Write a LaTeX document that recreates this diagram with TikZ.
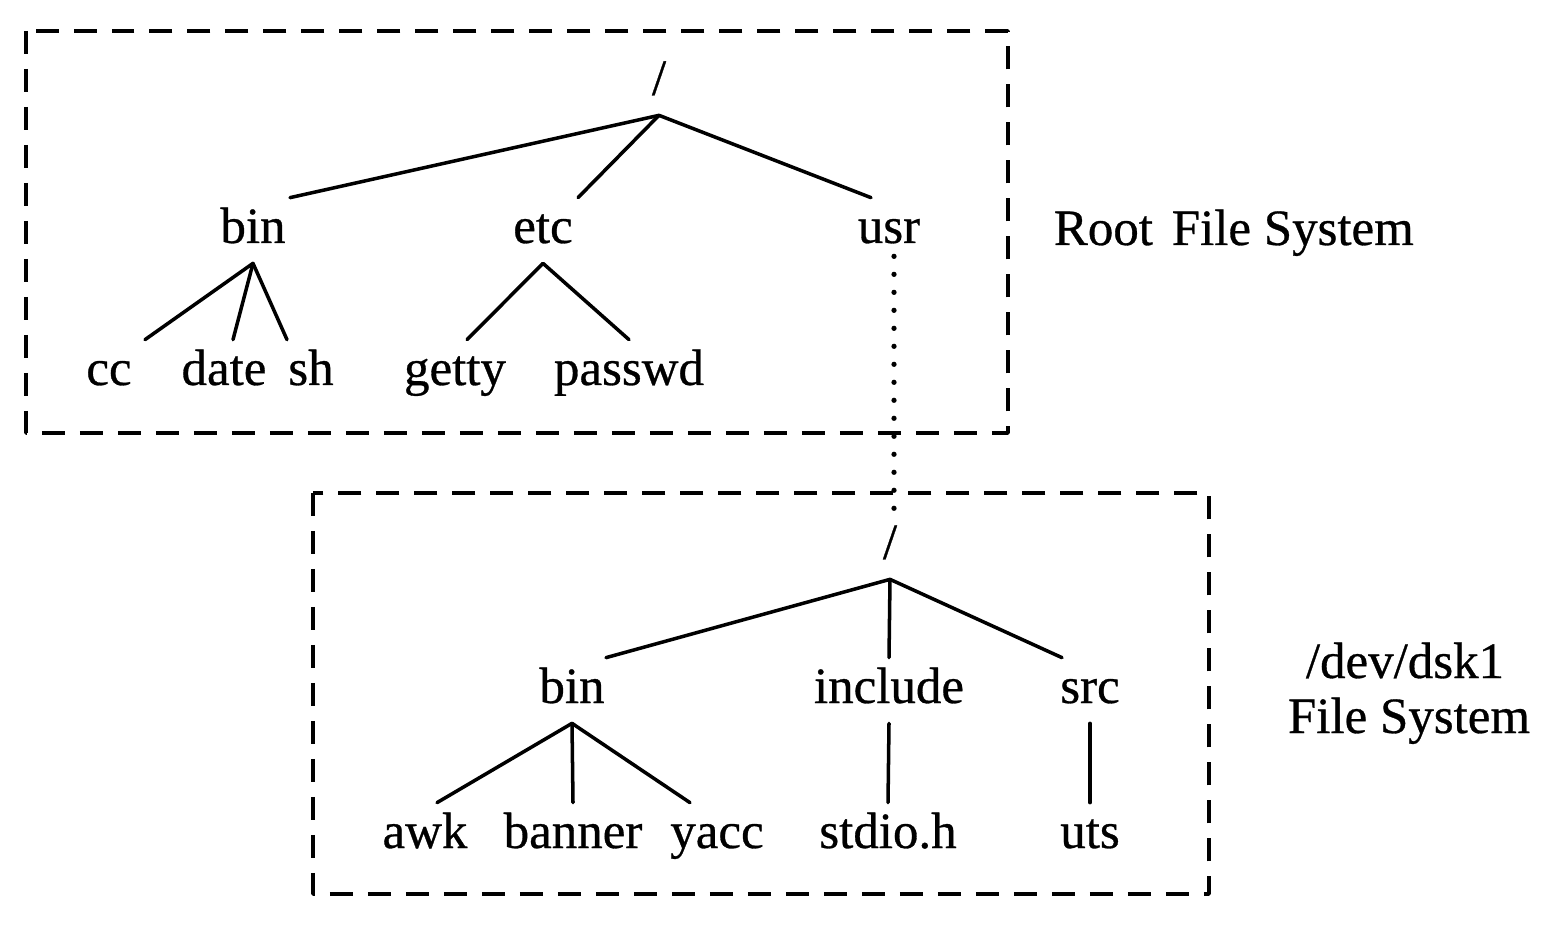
\documentclass[tikz,border=0pt]{standalone}
\usepackage{fontspec}
\setmainfont[FakeBold=0.6]{Liberation Serif}
\usetikzlibrary{calc}

\tikzset{
  fs/.style={font=\fontsize{29}{34}\selectfont, anchor=base,
    text height=0.7cm, text depth=0.2cm, inner xsep=2pt, inner ysep=0.2cm},
  branch/.style={line width=2pt, line cap=round},
  fsbox/.style={line width=2pt, dash pattern=on 0.46cm off 0.3cm},
  mount/.style={line width=3pt, line cap=round, dash pattern=on 0pt off 0.36cm}
}

\begin{document}
\begin{tikzpicture}[
  x=0.02cm, y=-0.02cm,  % pixel grid of the scan, y running down
  every path/.style={line join=round}
]
\useasboundingbox (0,0) rectangle (1558,928);

% ---------------- Root file system ----------------
\draw[fsbox] (26,31) rectangle (1008,433);

\node[fs] (rootA)  at (659,95)  {/};
\node[fs] (binA)   at (253,243) {bin};
\node[fs] (etcA)   at (543,243) {etc};
\node[fs] (usrA)   at (889,243) {usr};
\node[fs] (cc)     at (109,385) {cc};
\node[fs] (date)   at (224,385) {date};
\node[fs] (sh)     at (311,385) {sh};
\node[fs] (getty)  at (455,385) {getty};
\node[fs] (passwd) at (629,385) {passwd};

\foreach \c/\dx in {binA/37, etcA/35, usrA/-18}
  \draw[branch] (rootA.south) -- ($(\c.north)+(\dx,0)$);
\foreach \c/\dx in {cc/36, date/9, sh/-24}
  \draw[branch] (binA.south) -- ($(\c.north)+(\dx,0)$);
\foreach \c/\dx in {getty/12, passwd/0}
  \draw[branch] (etcA.south) -- ($(\c.north)+(\dx,0)$);

\node[fs, anchor=base west] (rootlabel) at (1050,245) {Root\hspace{0.12em} File System};

% ---------------- /dev/dsk1 file system ----------------
\draw[fsbox] (313,493) rectangle (1209,894);

\node[fs] (rootB)   at (890,559) {/};
\node[fs] (binB)    at (572,703) {bin};
\node[fs] (include) at (889,703) {include};
\node[fs] (src)     at (1090,703) {src};
\node[fs] (awk)     at (425,848) {awk};
\node[fs] (banner)  at (573,848) {banner};
\node[fs] (yacc)    at (717,848) {yacc};
\node[fs] (stdio)   at (888,848) {stdio.h};
\node[fs] (uts)     at (1090,848) {uts};

\foreach \c/\dx in {binB/34, include/0, src/-28}
  \draw[branch] (rootB.south) -- ($(\c.north)+(\dx,0)$);
\foreach \c/\dx in {awk/12, banner/0, yacc/-27}
  \draw[branch] (binB.south) -- ($(\c.north)+(\dx,0)$);
\draw[branch] (include.south) -- (stdio.north);
\draw[branch] (src.south) -- (uts.north);

\node[fs] (dsklabel) at (1405,678) {/dev/dsk1};
\node[fs] (fslabel)  at (1409,733) {File System};

% ---------------- Mount point ----------------
\draw[mount] ($(usrA.south)+(5,-7)$) -- ($(rootB.north)+(4,0)$);

\end{tikzpicture}
\end{document}
